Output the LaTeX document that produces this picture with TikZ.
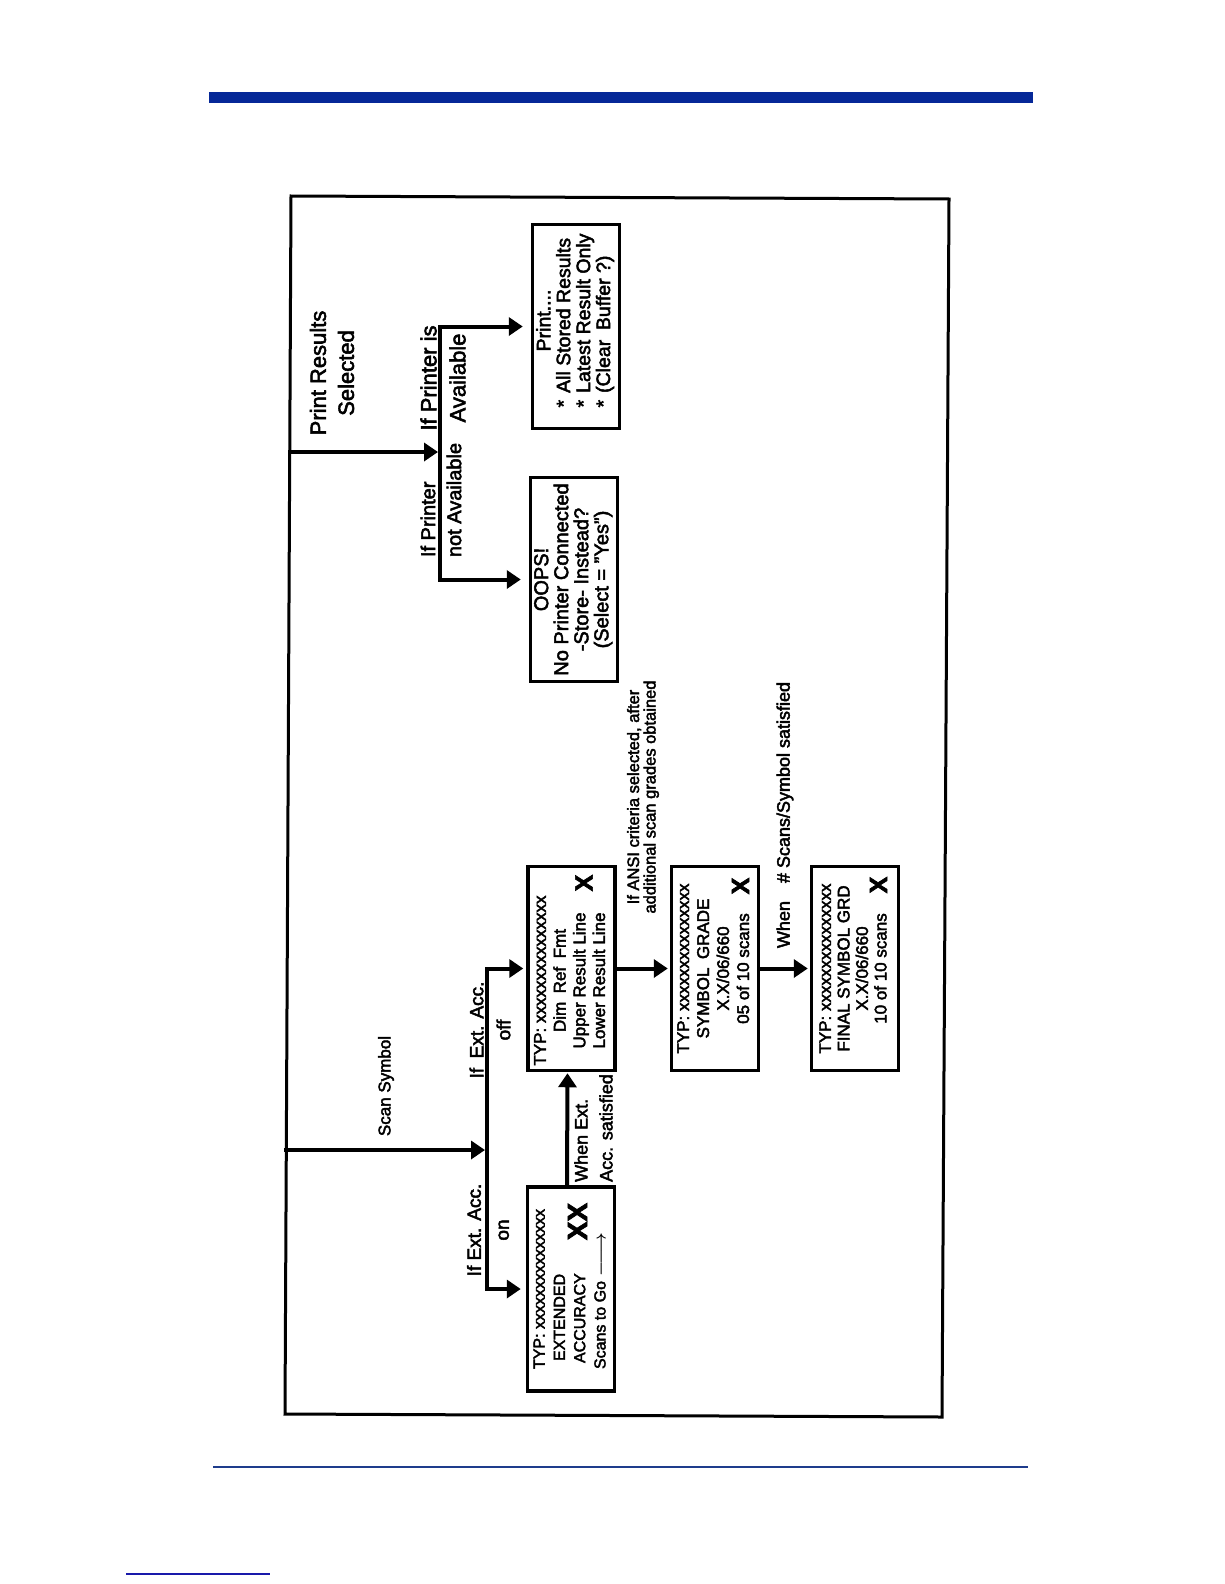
\documentclass[tikz,border=0pt]{standalone}
\usepackage{fontspec}
\setmainfont{Liberation Sans}[FakeBold=2.5]
\usetikzlibrary{arrows.meta,calc}
\definecolor{topblue}{RGB}{6,40,152}
\definecolor{lineblue}{RGB}{30,60,140}
\definecolor{shortblue}{RGB}{25,25,170}
\begin{document}
\begin{tikzpicture}[x=1pt,y=-1pt,
  box/.style={draw, line width=3.5pt, rotate=90, minimum width=204pt, minimum height=87pt, inner sep=0pt, font=\fontsize{17}{19.7}\selectfont},
  lbl/.style={rotate=90, inner sep=0pt},
  bigx/.style={rotate=90, inner sep=0pt, font=\fontsize{25}{25}\selectfont\bfseries},
  arr/.style={line width=4pt, line cap=rect, -{Triangle[length=14pt,width=18pt]}},
  frame/.style={line width=3pt, line join=miter}]
\fill[white] (0,0) rectangle (1224,1584);
\useasboundingbox (0,0) rectangle (1224,1584);

% page decorations
\fill[topblue] (209,92) rectangle (1033,103);
\draw[lineblue, line width=1.5pt] (213,1467) -- (1028,1467);
\draw[shortblue, line width=2pt] (126,1574) -- (270,1574);

% frame
\coordinate (fTL) at (291,196);
\coordinate (fTR) at (949,199);
\coordinate (fBR) at (942,1417);
\coordinate (fBL) at (285,1414);
\draw[frame] (fTL) -- (fTR) -- (fBR) -- (fBL) -- cycle;

% boxes
\node[box] (print) at (576,326.5) {\fontsize{19.5}{19.3}\selectfont\hspace*{12pt}\begin{tabular}{@{}l@{}}\multicolumn{1}{@{}c@{}}{Print....}\\{}*\hspace{7pt}All Stored Results\\{}*\hspace{7pt}Latest Result Only\\{}*\hspace{7pt}(Clear\enspace Buffer ?)\end{tabular}};
\node[box] (oops) at (574,579.5) {\fontsize{20}{18.5}\selectfont\begin{tabular}{@{}c@{}}OOPS!\\No Printer Connected\\-Store- Instead?\\(Select = "Yes")\end{tabular}};
\node[box] (b1) at (571.5,968.5) {\begin{tabular}{@{}c@{}}TYP: xxxxxxxxxxxxxxx\\Dim\enspace Ref\enspace Fmt\\Upper Result Line\\Lower Result Line\end{tabular}\kern24pt};
\node[box] (b2) at (715,968.5) {\fontsize{17}{20}\selectfont\begin{tabular}{@{}c@{}}TYP: xxxxxxxxxxxxxxx\\SYMBOL\enspace GRADE\\X.X/06/660\\05 of 10 scans\end{tabular}};
\node[box] (b3) at (855,968.5) {\fontsize{17}{18.5}\selectfont\begin{tabular}{@{}c@{}}TYP: xxxxxxxxxxxxxxx\\FINAL SYMBOL GRD\\X.X/06/660\\10 of 10 scans\end{tabular}};
\node[box] (ext) at (571,1289) {\fontsize{16}{20.3}\selectfont\begin{tabular}{@{}l@{}}TYP: xxxxxxxxxxxxxxx\\\hspace{8pt}EXTENDED\\\hspace{6pt}ACCURACY\\Scans to Go {\boldmath$\relbar\joinrel\longrightarrow$}\end{tabular}};

% big X marks
\node[bigx] (x1) at (584,883) {X};
\node[bigx] (x2) at (740.5,886) {X};
\node[bigx] (x3) at (878.5,885) {X};
\node[bigx, font=\fontsize{28}{28}\selectfont\bfseries] (xx) at (577.5,1221.5) {XX};

% labels
\node[lbl, align=center, font=\fontsize{22}{28}\selectfont] (lprint) at (332,373) {Print Results\\Selected};
\node[lbl, align=center, font=\fontsize{22}{29}\selectfont] (lavail) at (443,378) {If Printer is\\Available};
\node[lbl, align=left, font=\fontsize{20}{26}\selectfont] (lnot) at (441,500) {If Printer\\not Available};
\node[lbl, font=\fontsize{17}{20}\selectfont] (lscan) at (386,1086) {Scan Symbol};
\node[lbl, align=center, font=\fontsize{19}{28}\selectfont] (lon) at (488,1230) {If Ext. Acc.\\on};
\node[lbl, align=center, font=\fontsize{19}{27}\selectfont] (loff) at (490,1030) {If\enspace Ext. Acc.\\off};
\node[lbl, align=left, font=\fontsize{18}{25}\selectfont] (lsat) at (593.5,1128) {When Ext.\\Acc. satisfied};
\node[lbl, align=center, font=\fontsize{16.5}{16.5}\selectfont] (lansi) at (643,797) {If ANSI criteria selected, after\\additional scan grades obtained};
\node[lbl, font=\fontsize{18}{20}\selectfont] (lwhen) at (785,815) {When\quad\# Scans/Symbol satisfied};

% connectors
\coordinate (pbus) at (440,0);
\coordinate (sbus) at (487,0);
\coordinate (pfeed) at (290,452);
\coordinate (sfeed) at (286,1150);

\draw[arr, shorten >=2pt] (pfeed) -- (pbus |- pfeed);
\draw[arr, shorten >=8pt] (pbus |- oops.north) -- (pbus |- print.north) -- (print.north);
\draw[arr, shorten >=8pt] (pbus |- oops.north) -- (oops.north);

\draw[arr, shorten >=2pt] (sfeed) -- (sbus |- sfeed);
\draw[arr, shorten >=3pt] (sbus |- ext.north) -- (sbus |- b1.north) -- (b1.north);
\draw[arr, shorten >=5pt] (sbus |- ext.north) -- (ext.north);
\draw[arr, shorten >=2pt] (b1.south) -- (b2.north);
\draw[arr, shorten >=2pt] (b2.south) -- (b3.north);
\draw[arr, shorten >=1pt] ([xshift=-4pt]ext.east) -- ([xshift=-4pt]b1.west);
\end{tikzpicture}
\end{document}
